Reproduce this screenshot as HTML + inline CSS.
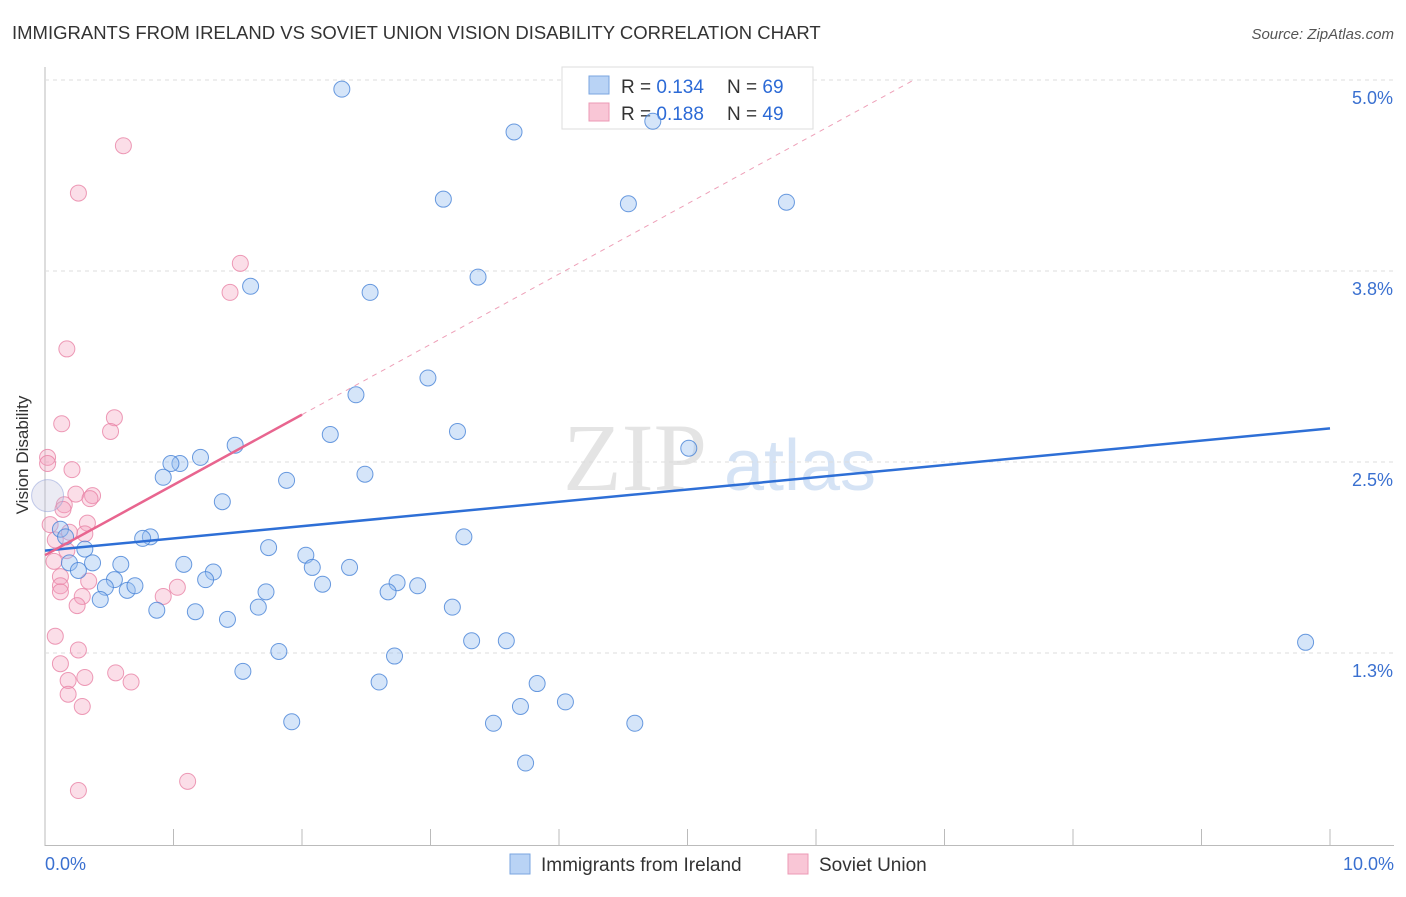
<!DOCTYPE html>
<html><head><meta charset="utf-8"><style>
body{margin:0;background:#fff;font-family:"Liberation Sans",sans-serif;}
</style></head><body>
<svg width="1406" height="892" xmlns="http://www.w3.org/2000/svg" id="svg">
<text x="12" y="39" font-size="18.5" fill="#333">IMMIGRANTS FROM IRELAND VS SOVIET UNION VISION DISABILITY CORRELATION CHART</text>
<text x="1394" y="39" font-size="15" fill="#555" text-anchor="end" font-style="italic">Source: ZipAtlas.com</text>
<text x="635" y="490" font-size="96" fill="#e4e4e4" font-family="Liberation Serif,serif" text-anchor="middle">ZIP</text>
<text x="800" y="490" font-size="72" fill="#d5e3f5" text-anchor="middle">atlas</text>
<line x1="45" y1="67" x2="45" y2="846" stroke="#bbb"/>
<line x1="45" y1="845.5" x2="1394" y2="845.5" stroke="#bbb"/>
<text x="28" y="455" font-size="17" fill="#333" text-anchor="middle" transform="rotate(-90 28 455)">Vision Disability</text>
<g id="grid"></g>
<rect x="562" y="67" width="251" height="62" fill="#fff" stroke="#ddd"/>
<rect x="589" y="76" width="20" height="18" fill="#b9d3f5" stroke="#7aa6e0"/>
<rect x="589" y="103" width="20" height="18" fill="#f9c6d6" stroke="#ec9ab5"/>
<text x="621" y="93" font-size="19" fill="#333">R = <tspan fill="#2c6ad6">0.134</tspan></text>
<text x="727" y="93" font-size="19" fill="#333">N = <tspan fill="#2c6ad6">69</tspan></text>
<text x="621" y="120" font-size="19" fill="#333">R = <tspan fill="#2c6ad6">0.188</tspan></text>
<text x="727" y="120" font-size="19" fill="#333">N = <tspan fill="#2c6ad6">49</tspan></text>
<g id="pts"></g><g id="lines"></g>
<rect x="510" y="854" width="20" height="20" fill="#b9d3f5" stroke="#7aa6e0"/>
<text x="541" y="871" font-size="19" fill="#333">Immigrants from Ireland</text>
<rect x="788" y="854" width="20" height="20" fill="#f9c6d6" stroke="#ec9ab5"/>
<text x="819" y="871" font-size="19" fill="#333">Soviet Union</text>
</svg>
<script>
const yTicks=[5.0,3.75,2.5,1.25];
const yTickLabels=["5.0%","3.8%","2.5%","1.3%"];
const xTickLabels=["0.0%","10.0%"];
const irelandX=[2.31,3.65,4.73,3.10,4.54,5.77,3.37,1.60,2.53,2.98,2.42,3.21,2.22,5.01,1.48,1.21,1.05,0.98,0.92,2.49,1.88,1.38,9.81,3.26,0.82,0.76,0.12,0.16,0.31,0.37,0.19,0.26,0.59,0.54,0.47,0.43,0.64,0.70,0.87,1.08,1.31,1.25,1.17,1.42,1.74,1.72,1.66,2.03,2.08,2.16,2.37,2.74,2.67,2.90,3.17,3.32,3.59,1.82,2.72,1.54,2.60,3.83,3.70,4.05,1.92,3.49,4.59,3.74];
const irelandY=[4.94,4.66,4.73,4.22,4.19,4.20,3.71,3.65,3.61,3.05,2.94,2.70,2.68,2.59,2.61,2.53,2.49,2.49,2.40,2.42,2.38,2.24,1.32,2.01,2.01,2.00,2.06,2.01,1.93,1.84,1.84,1.79,1.83,1.73,1.68,1.60,1.66,1.69,1.53,1.83,1.78,1.73,1.52,1.47,1.94,1.65,1.55,1.89,1.81,1.70,1.81,1.71,1.65,1.69,1.55,1.33,1.33,1.26,1.23,1.13,1.06,1.05,0.90,0.93,0.80,0.79,0.79,0.53];
const sovietX=[0.61,0.26,1.52,1.44,0.17,0.54,0.51,0.13,0.02,0.02,0.21,0.24,0.37,0.35,0.15,0.14,0.33,0.04,0.31,0.19,0.08,0.17,0.07,0.12,0.34,0.12,0.29,0.25,0.12,0.92,1.03,0.08,0.26,0.12,0.55,0.31,0.18,0.67,0.18,0.29,1.11,0.26];
const sovietY=[4.57,4.26,3.80,3.61,3.24,2.79,2.70,2.75,2.53,2.49,2.45,2.29,2.28,2.26,2.22,2.19,2.10,2.09,2.03,2.04,1.99,1.92,1.85,1.75,1.72,1.69,1.62,1.56,1.65,1.62,1.68,1.36,1.27,1.18,1.12,1.09,1.07,1.06,0.98,0.90,0.41,0.35];
const irelandTrend=[1.92,2.72];
const sovietTrend=[1.89,0.46];
const NS="http://www.w3.org/2000/svg";
const X=v=>45+v*128.5, Y=v=>80+(5-v)*152.8;
function mk(t,a,p){const e=document.createElementNS(NS,t);for(const k in a)e.setAttribute(k,a[k]);p.appendChild(e);return e;}
const grid=document.getElementById('grid');
yTicks.forEach((v,i)=>{
 const l=mk('line',{x1:45,x2:1394,y1:Y(v),y2:Y(v),stroke:'#ddd','stroke-dasharray':'4,4'},grid);
 
 
 const t=mk('text',{x:1393,y:Y(v)+24,'font-size':18,fill:'#3a70d0','text-anchor':'end'},grid);t.textContent=yTickLabels[i];
 
 
});
for(let i=0;i<=10;i++){const l=mk('line',{x1:X(i),x2:X(i),y1:829,y2:845,stroke:'#bbb'},grid);
 
 }
[[0,'start',45],[10,'end',1394]].forEach((d,i)=>{const t=mk('text',{x:d[2],y:870,'font-size':18,fill:'#3a70d0','text-anchor':d[1]},grid);t.textContent=xTickLabels[i];
 
 });
const pts=document.getElementById('pts');
sovietX.forEach((x,i)=>{const c=mk('circle',{cx:X(x),cy:Y(sovietY[i]),r:8,fill:'rgba(244,160,188,0.35)',stroke:'rgba(232,130,165,0.8)','stroke-width':1},pts);
 
 });
irelandX.forEach((x,i)=>{const c=mk('circle',{cx:X(x),cy:Y(irelandY[i]),r:8,fill:'rgba(150,190,240,0.4)',stroke:'rgba(70,130,215,0.8)','stroke-width':1},pts);
 
 });
const big=mk('circle',{cx:X(0.02),cy:Y(2.28),r:16,fill:'rgba(190,190,220,0.3)',stroke:'rgba(140,155,215,0.5)'},pts);


const ln=document.getElementById('lines');
const bl=mk('line',{x1:X(0),y1:Y(irelandTrend[0]),x2:X(10),y2:Y(irelandTrend[1]),stroke:'#2e6fd6','stroke-width':2.5},ln);


const ps=v=>sovietTrend[0]+sovietTrend[1]*v;
const pl=mk('line',{x1:X(0),y1:Y(ps(0)),x2:X(2),y2:Y(ps(2)),stroke:'#e8658f','stroke-width':2.5},ln);


const xe=(5-sovietTrend[0])/sovietTrend[1];
const pd=mk('line',{x1:X(2),y1:Y(ps(2)),x2:X(xe),y2:Y(ps(xe)),stroke:'#eea0b8','stroke-width':1,'stroke-dasharray':'5,5'},ln);


</script>
</body></html>
